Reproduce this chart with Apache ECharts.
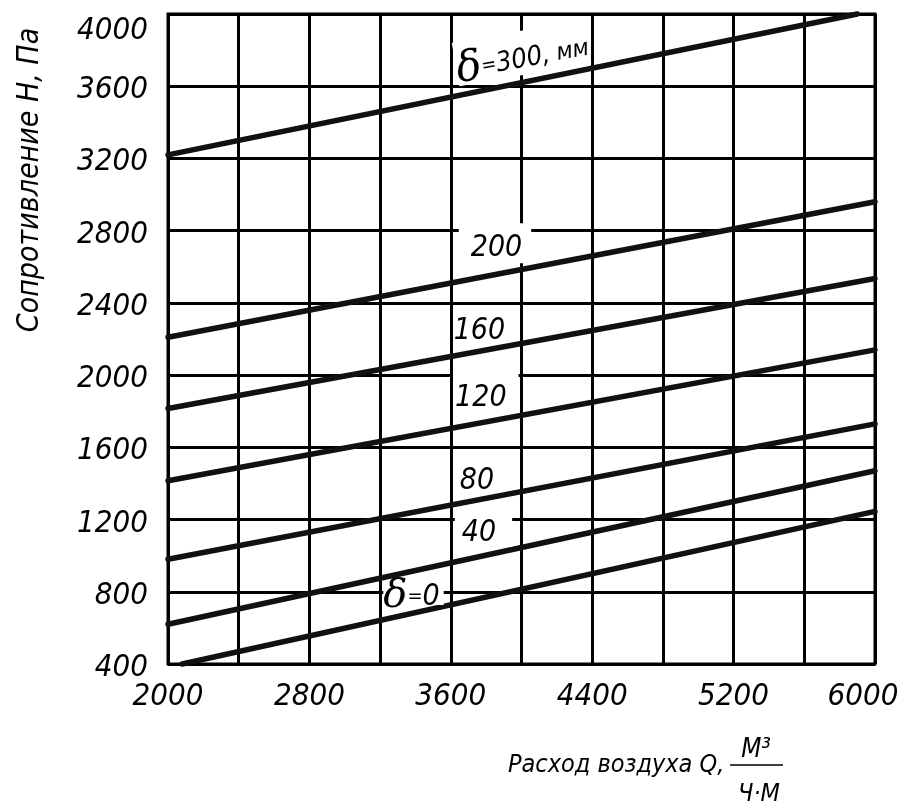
<!DOCTYPE html>
<html>
<head>
<meta charset="utf-8">
<script src="https://cdn.jsdelivr.net/npm/echarts@6/dist/echarts.min.js"></script>
<style>
  html, body { margin: 0; padding: 0; background: #fff; }
  #chart { width: 905px; height: 808px; }
</style>
</head>
<body>
<div id="chart"></div>
<script>
// ---- data ----
const xTicks = [2000, 2400, 2800, 3200, 3600, 4000, 4400, 4800, 5200, 5600, 6000];
const xLabelled = [2000, 2800, 3600, 4400, 5200, 6000];
const yTicks = [400, 800, 1200, 1600, 2000, 2400, 2800, 3200, 3600, 4000];

const deltas = ['300', '200', '160', '120', '80', '40', '0'];
const xStart = [2000, 2000, 2000, 2000, 2000, 2000, 2080];
const yStart = [3220, 2210, 1815, 1415, 980, 620, 400];
const xEnd   = [5900, 6000, 6000, 6000, 6000, 6000, 6000];
const yEnd   = [4000, 2960, 2535, 2140, 1730, 1470, 1245];

const labelText = ['δ=300, мм', '200', '160', '120', '80', '40', 'δ=0'];
const labelX = [4000, 3850, 3762, 3798, 3748, 3785, 3389];
const labelY = [3784, 2731, 2245, 1906, 1413, 1137, 771];

const yTitle = 'Сопротивление Н, Па';
const xTitle = 'Расход воздуха Q,';
const xUnitNum = 'М³';
const xUnitDen = 'Ч·М';

// ---- styles ----
const FONT = "'Liberation Sans Narrow', 'DejaVu Sans Condensed', 'Liberation Sans', sans-serif";
const DELTA_FONT = "'DejaVu Serif', 'Liberation Serif', serif";

const labelStyles = [
  { rotate: 10, padding: [14, 0, 0, 0], bg: '#fff', size: 27, uSize: 24, dSize: 42, eSize: 20, lh: 30 },
  { padding: [10, 9, 0, 12], bg: '#fff', size: 30, lh: 30 },
  { size: 30, lh: 30 },
  { padding: [12, 12, 0, 2], bg: '#fff', size: 30, lh: 30 },
  { size: 30, lh: 30 },
  { padding: [4, 16, 0, 7], bg: '#fff', size: 30, lh: 28 },
  { padding: [0, 4, 0, 0], bg: '#fff', size: 30, dSize: 40, eSize: 20, lh: 16 }
];

const lineSeries = deltas.map((d, i) => ({
  name: 'δ=' + d,
  type: 'line',
  data: [[xStart[i], yStart[i]], [xEnd[i], yEnd[i]]],
  showSymbol: false,
  symbol: 'none',
  clip: false,
  lineStyle: { color: '#111', width: 5.5, cap: 'round' },
  z: 3,
  silent: true
}));

const labelData = labelText.map((t, i) => {
  const st = labelStyles[i];
  let fmt;
  if (t.charAt(0) === 'δ') {
    const rest = t.slice(2);
    const k = rest.indexOf(' ');
    if (k >= 0) {
      fmt = '{d|δ}{e|=}{t|' + rest.slice(0, k) + '}{u|' + rest.slice(k) + '}';
    } else {
      fmt = '{d|δ}{e|=}{t|' + rest + '}';
    }
  } else {
    fmt = '{t|' + t + '}';
  }
  return {
    value: [labelX[i], labelY[i]],
    label: {
      show: true,
      position: 'inside',
      formatter: fmt,
      rotate: st.rotate || 0,
      padding: st.padding || 0,
      backgroundColor: st.bg || 'transparent',
      rich: {
        t: { fontFamily: FONT, fontStyle: 'italic', fontSize: st.size, lineHeight: st.lh, color: '#000' },
        u: { fontFamily: FONT, fontStyle: 'italic', fontSize: st.uSize || st.size, lineHeight: st.lh, color: '#000' },
        e: { fontFamily: FONT, fontStyle: 'italic', fontSize: st.eSize || st.size, lineHeight: st.lh, color: '#000' },
        d: { fontFamily: DELTA_FONT, fontStyle: 'italic', fontSize: st.dSize || st.size, lineHeight: st.lh, color: '#000' }
      }
    }
  };
});

const chart = echarts.init(document.getElementById('chart'), null, { renderer: 'canvas' });

chart.setOption({
  animation: false,
  backgroundColor: '#fff',
  grid: {
    left: 168, top: 14, width: 707, height: 650,
    show: true, borderColor: '#000', borderWidth: 3, backgroundColor: 'transparent',
    containLabel: false, outerBoundsMode: 'none'
  },
  xAxis: {
    type: 'value',
    min: xTicks[0], max: xTicks[xTicks.length - 1], interval: xTicks[1] - xTicks[0],
    axisLine: { show: false },
    axisTick: { show: false },
    splitLine: { show: true, lineStyle: { color: '#000', width: 3 } },
    axisLabel: {
      show: true, showMinLabel: true, showMaxLabel: true, hideOverlap: false,
      margin: 17,
      fontFamily: FONT, fontStyle: 'italic', fontSize: 31, color: '#000',
      formatter: v => {
        if (xLabelled.indexOf(v) < 0) return '';
        return v === xTicks[xTicks.length - 1] ? '{r|' + v + '}' : String(v);
      },
      rich: {
        r: { fontFamily: FONT, fontStyle: 'italic', fontSize: 31, color: '#000', padding: [0, 24, 0, 0] }
      }
    }
  },
  yAxis: {
    type: 'value',
    min: yTicks[0], max: yTicks[yTicks.length - 1], interval: yTicks[1] - yTicks[0],
    axisLine: { show: false },
    axisTick: { show: false },
    splitLine: { show: true, lineStyle: { color: '#000', width: 3 } },
    axisLabel: {
      show: true, showMinLabel: true, showMaxLabel: true, hideOverlap: false,
      margin: 20,
      padding: [8, 0, 0, 0],
      fontFamily: FONT, fontStyle: 'italic', fontSize: 31, color: '#000',
      formatter: v => (v === yTicks[yTicks.length - 1] ? '{top|' + v + '}' : String(v)),
      rich: {
        top: { fontFamily: FONT, fontStyle: 'italic', fontSize: 31, color: '#000', padding: [26, 0, 0, 0] }
      }
    }
  },
  series: lineSeries.concat([{
    name: 'labels',
    type: 'scatter',
    symbolSize: 0,
    itemStyle: { opacity: 1 },
    data: labelData,
    z: 5,
    silent: true
  }]),
  graphic: [
    {
      type: 'text', x: 30, y: 180, rotation: Math.PI / 2,
      style: { text: yTitle, fontFamily: FONT, fontStyle: 'italic', fontSize: 30, fill: '#000', align: 'center', verticalAlign: 'middle' }
    },
    {
      type: 'text', x: 508, y: 765,
      style: { text: xTitle, fontFamily: FONT, fontStyle: 'italic', fontSize: 25, fill: '#000', align: 'left', verticalAlign: 'middle' }
    },
    {
      type: 'text', x: 756, y: 750,
      style: { text: xUnitNum, fontFamily: FONT, fontStyle: 'italic', fontSize: 26, fill: '#000', align: 'center', verticalAlign: 'middle' }
    },
    {
      type: 'line', shape: { x1: 730, y1: 765, x2: 783, y2: 765 },
      style: { stroke: '#000', lineWidth: 1.5 }
    },
    {
      type: 'text', x: 759, y: 794,
      style: { text: xUnitDen, fontFamily: FONT, fontStyle: 'italic', fontSize: 25, fill: '#000', align: 'center', verticalAlign: 'middle' }
    }
  ]
});
</script>
</body>
</html>
